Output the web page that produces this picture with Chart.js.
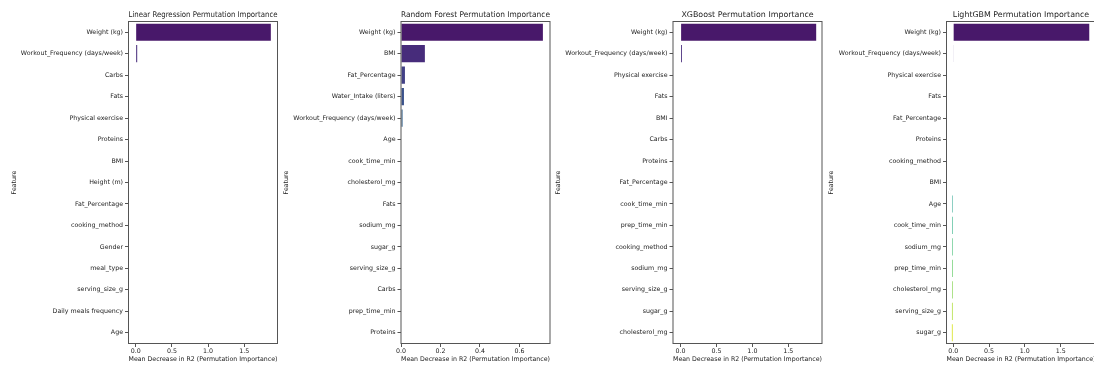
<!DOCTYPE html>
<html>
<head>
<meta charset="utf-8">
<script src="https://cdn.jsdelivr.net/npm/chart.js@4.4.1/dist/chart.umd.min.js"></script>
<style>
  html, body { margin: 0; padding: 0; background: #fff; overflow: hidden; }
  #fig { position: relative; width: 1094px; height: 367px; }
  #fig canvas { position: absolute; top: 0; }
</style>
</head>
<body>
<div id="fig"></div>
<script>
// Permutation importance (mean decrease in R2), features sorted by importance per model
const lrFeatures = ['Weight (kg)', 'Workout_Frequency (days/week)', 'Carbs', 'Fats', 'Physical exercise',
  'Proteins', 'BMI', 'Height (m)', 'Fat_Percentage', 'cooking_method', 'Gender', 'meal_type',
  'serving_size_g', 'Daily meals frequency', 'Age'];
const lrImportance = [1.866, 0.021, 0, 0, 0, 0, 0, 0, 0, 0, 0, 0, 0, 0, 0];

const rfFeatures = ['Weight (kg)', 'BMI', 'Fat_Percentage', 'Water_Intake (liters)',
  'Workout_Frequency (days/week)', 'Age', 'cook_time_min', 'cholesterol_mg', 'Fats', 'sodium_mg',
  'sugar_g', 'serving_size_g', 'Carbs', 'prep_time_min', 'Proteins'];
const rfImportance = [0.719, 0.121, 0.020, 0.015, 0.008, 0, 0, 0, 0, 0, 0, 0, 0, 0, 0];

const xgbFeatures = ['Weight (kg)', 'Workout_Frequency (days/week)', 'Physical exercise', 'Fats', 'BMI',
  'Carbs', 'Proteins', 'Fat_Percentage', 'cook_time_min', 'prep_time_min', 'cooking_method',
  'sodium_mg', 'serving_size_g', 'sugar_g', 'cholesterol_mg'];
const xgbImportance = [1.889, 0.019, 0, 0, 0, 0, 0, 0, 0, 0, 0, 0, 0, 0, 0];

const lgbmFeatures = ['Weight (kg)', 'Workout_Frequency (days/week)', 'Physical exercise', 'Fats',
  'Fat_Percentage', 'Proteins', 'cooking_method', 'BMI', 'Age', 'cook_time_min', 'sodium_mg',
  'prep_time_min', 'cholesterol_mg', 'serving_size_g', 'sugar_g'];
const lgbmImportance = [1.898, 0.008, 0, 0, 0, 0, 0, 0, -0.014, -0.015, -0.015, -0.016, -0.016,
  -0.017, -0.018];

const modelTitles = ['Linear Regression Permutation Importance', 'Random Forest Permutation Importance',
  'XGBoost Permutation Importance', 'LightGBM Permutation Importance'];

// viridis sampled at 15 evenly spaced interior points
const viridis15 = ['#48186a', '#472c7b', '#424086', '#3b528b', '#33628d', '#2c728e', '#26818e',
  '#21918c', '#1f9f88', '#28ae80', '#3fbc73', '#5ec962', '#82d34c', '#acdc31', '#d7e21b'];

const FONT = 'DejaVu Sans';
const TEXT = '#222';
const SPINE = '#555';

const panels = [
  { features: lrFeatures,   values: lrImportance,   left: 0,   yWidth: 128.5, xMin: -0.099, xMax: 1.958, step: 0.5 },
  { features: rfFeatures,   values: rfImportance,   left: 272, yWidth: 129,   xMin: 0,      xMax: 0.755, step: 0.2 },
  { features: xgbFeatures,  values: xgbImportance,  left: 544, yWidth: 129,   xMin: -0.106, xMax: 1.97,  step: 0.5 },
  { features: lgbmFeatures, values: lgbmImportance, left: 817, yWidth: 129.5, xMin: -0.093, xMax: 1.985, step: 0.5 }
];

// closed box around each plot area
const framePlugin = {
  id: 'frame',
  afterDatasetsDraw(chart) {
    const { ctx, chartArea: a } = chart;
    ctx.save();
    ctx.strokeStyle = SPINE;
    ctx.lineWidth = 1;
    ctx.strokeRect(a.left, a.top, a.right - a.left, a.bottom - a.top);
    ctx.restore();
  }
};

const fig = document.getElementById('fig');
panels.forEach((p, i) => {
  const canvas = document.createElement('canvas');
  const W = 284;
  canvas.width = W; canvas.height = 367;
  canvas.style.left = p.left + 'px';
  canvas.style.width = W + 'px'; canvas.style.height = '367px';
  fig.appendChild(canvas);

  new Chart(canvas, {
    type: 'bar',
    data: {
      labels: p.features,
      datasets: [{
        data: p.values,
        backgroundColor: viridis15,
        borderWidth: 0,
        categoryPercentage: 1.0,
        barPercentage: 0.8
      }]
    },
    options: {
      indexAxis: 'y',
      responsive: false,
      animation: false,
      devicePixelRatio: 1,
      layout: { padding: { top: 0, right: W - (p.yWidth + 149), bottom: 0, left: 0 } },
      plugins: {
        legend: { display: false },
        tooltip: { enabled: false },
        title: {
          display: true,
          text: modelTitles[i],
          fullSize: false,
          color: TEXT,
          font: { family: FONT, size: 7.9, weight: 'normal', lineHeight: 1.2 },
          padding: { top: 10.56, bottom: 1.46 }
        }
      },
      scales: {
        x: {
          type: 'linear',
          position: 'bottom',
          min: p.xMin,
          max: p.xMax,
          border: { display: false },
          grid: { display: true, drawOnChartArea: false, drawTicks: true, tickLength: 3.5, color: SPINE },
          ticks: {
            stepSize: p.step,
            includeBounds: false,
            autoSkip: false,
            maxRotation: 0,
            padding: 1,
            color: TEXT,
            font: { family: FONT, size: 6.3 },
            callback: v => Number(v).toFixed(1)
          },
          title: {
            display: true,
            text: 'Mean Decrease in R2 (Permutation Importance)',
            color: TEXT,
            font: { family: FONT, size: 6.45, lineHeight: 1.2 },
            padding: { top: 0, bottom: 3.5 }
          },
          afterFit: s => { s.height = 23.5; }
        },
        y: {
          type: 'category',
          position: 'left',
          offset: true,
          border: { display: false },
          grid: { display: true, offset: false, drawOnChartArea: false, drawTicks: true, tickLength: 3.5, color: SPINE },
          ticks: {
            autoSkip: false,
            padding: 2,
            color: TEXT,
            font: { family: FONT, size: 6.3 }
          },
          title: {
            display: true,
            text: 'Feature',
            color: TEXT,
            font: { family: FONT, size: 6.3, lineHeight: 1.2 },
            padding: { top: 10.5, bottom: 0 }
          },
          afterFit: s => { s.width = p.yWidth; }
        }
      }
    },
    plugins: [framePlugin]
  });
});
</script>
</body>
</html>
